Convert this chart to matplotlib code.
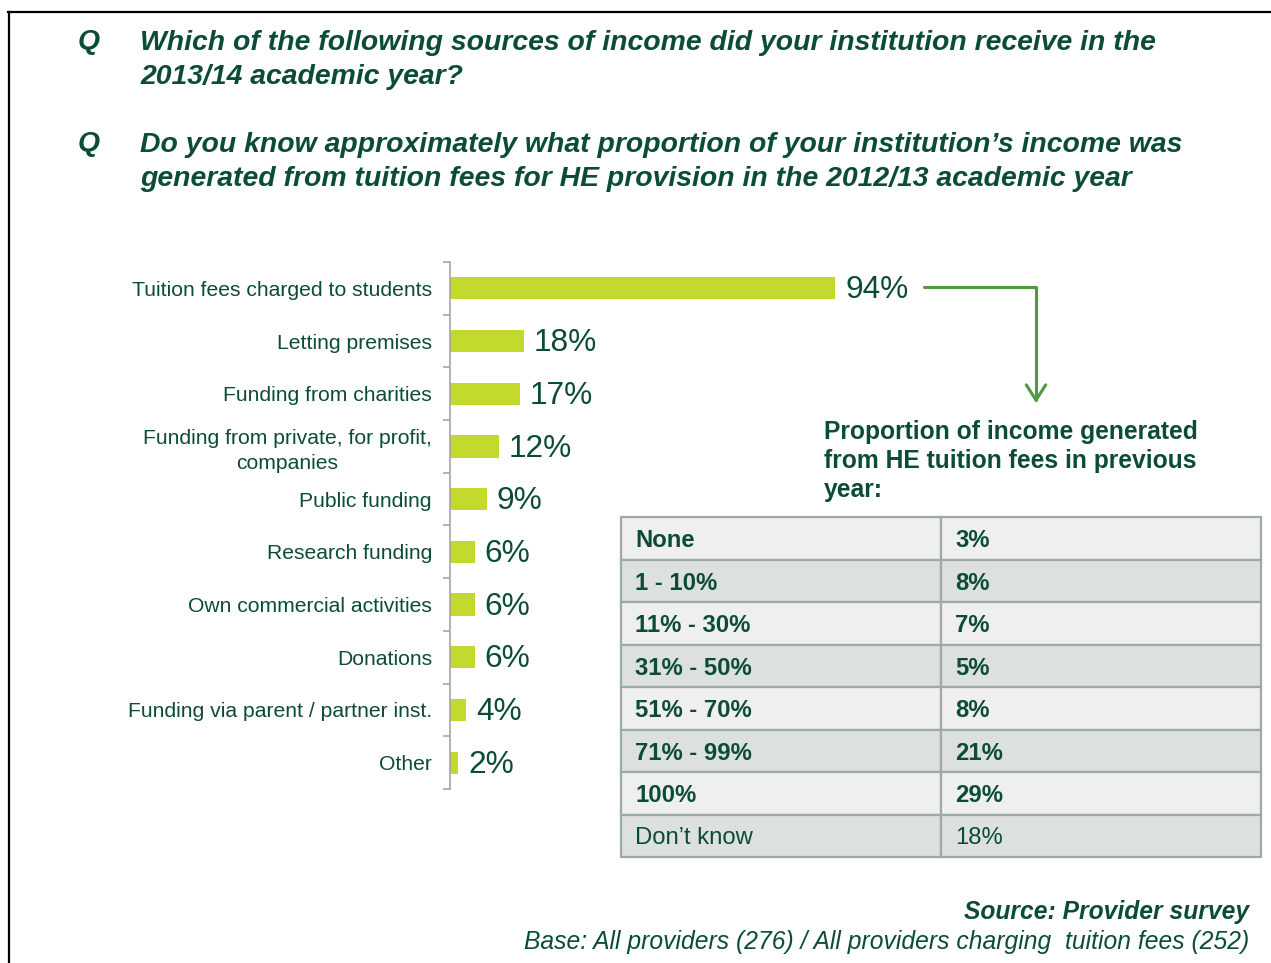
"""
Income sources of HE providers (2013/14) with the share of income from
tuition fees in the previous year shown as a side table.

Writes: out.png
"""
import matplotlib.pyplot as plt
from matplotlib.lines import Line2D

plt.rcParams["font.family"] = ["Liberation Sans", "DejaVu Sans"]

DARK = "#0B4C38"
BAR = "#C3D92E"
ARROW = "#4E9A3E"

# income sources, top to bottom
sources = [
    "Tuition fees charged to students",
    "Letting premises",
    "Funding from charities",
    "Funding from private, for profit,\ncompanies",
    "Public funding",
    "Research funding",
    "Own commercial activities",
    "Donations",
    "Funding via parent / partner inst.",
    "Other",
]
shares = [94, 18, 17, 12, 9, 6, 6, 6, 4, 2]

# proportion of income from HE tuition fees in previous year
bands = ["None", "1 - 10%", "11% - 30%", "31% - 50%", "51% - 70%",
         "71% - 99%", "100%", "Don\u2019t know"]
band_pct = [3, 8, 7, 5, 8, 21, 29, 18]

questions = [
    "Which of the following sources of income did your institution receive in the\n"
    "2013/14 academic year?",
    "Do you know approximately what proportion of your institution\u2019s income was\n"
    "generated from tuition fees for HE provision in the 2012/13 academic year",
]

W, H = 1271, 963
fig = plt.figure(figsize=(W / 100, H / 100), dpi=100)


def fx(px):
    return px / W


def fy(py):
    return 1 - py / H


# frame lines (top and left)
fig.add_artist(Line2D([fx(8), 1], [fy(12), fy(12)], color="black", lw=1.6))
fig.add_artist(Line2D([fx(9), fx(9)], [0, fy(12)], color="black", lw=1.6))

# questions
for (y0, q) in zip([41, 143], questions):
    fig.text(fx(78), fy(y0 + 1), "Q", fontsize=20.4, fontweight="bold",
             fontstyle="italic", color=DARK, va="center")
    fig.text(fx(140), fy(y0 - 11), q, fontsize=20.4, fontweight="bold",
             fontstyle="italic", color=DARK, va="top", linespacing=1.4)

# bar chart
ax = fig.add_axes([fx(450), fy(789), fx(860) - fx(450), fy(262) - fy(789)])
ypos = list(range(len(sources)))
ax.barh(ypos, shares, height=0.42, color=BAR)
ax.set_xlim(0, 100)
ax.set_ylim(len(sources) - 0.5, -0.5)
for s in ["top", "right", "bottom"]:
    ax.spines[s].set_visible(False)
ax.spines["left"].set_color("#A6A6A6")
ax.spines["left"].set_linewidth(1.2)
ax.set_xticks([])
ax.set_yticks(ypos)
ax.set_yticklabels(sources, fontsize=15.2, color=DARK, multialignment="center",
                   linespacing=1.35)
ax.tick_params(axis="y", which="major", length=0, pad=13)
ax.set_yticks([i - 0.5 for i in range(len(sources) + 1)], minor=True)
ax.tick_params(axis="y", which="minor", length=5, width=1.2, color="#A6A6A6")
ax.patch.set_alpha(0)

for y, v in zip(ypos, shares):
    ax.annotate(f"{v}%", (v, y), xytext=(7, -1.5), textcoords="offset points",
                va="center", ha="left", fontsize=22.8, color=DARK,
                annotation_clip=False)

# arrow from the tuition-fee bar to the table heading
ax.annotate("", xy=(fx(1036), fy(403)), xycoords="figure fraction",
            xytext=(fx(924), fy(287)), textcoords="figure fraction",
            arrowprops=dict(arrowstyle="->,head_length=0.55,head_width=0.35",
                            connectionstyle="angle,angleA=0,angleB=90,rad=0",
                            color=ARROW, lw=2.2, shrinkA=0, shrinkB=0,
                            mutation_scale=20))

fig.text(fx(824), fy(461), "Proportion of income generated\n"
         "from HE tuition fees in previous\nyear:",
         fontsize=17.7, fontweight="bold", color=DARK, va="center",
         linespacing=1.28)

# side table
tax = fig.add_axes([fx(621), fy(857), fx(1261) - fx(621), fy(517) - fy(857)])
tax.axis("off")
cells = [[b, f"{p}%"] for b, p in zip(bands, band_pct)]
row_fill = ["#EFEFEF" if i % 2 == 0 else "#DCE0DE" for i in range(len(bands))]
tbl = tax.table(cellText=cells, cellLoc="left", bbox=[0, 0, 1, 1],
                cellColours=[[c, c] for c in row_fill])
tbl.auto_set_font_size(False)
for (r, c), cell in tbl.get_celld().items():
    cell.set_edgecolor("#9DABA3")
    cell.set_linewidth(1.6)
    cell.PAD = 0.044
    txt = cell.get_text()
    txt.set_fontsize(17.2)
    txt.set_color(DARK)
    txt.set_va("center_baseline")
    if r < len(bands) - 1:
        txt.set_fontweight("bold")

# source notes
fig.text(fx(1249), fy(912), "Source: Provider survey", ha="right", va="center",
         fontsize=17.7, fontweight="bold", fontstyle="italic", color=DARK)
fig.text(fx(1249), fy(942),
         "Base: All providers (276) / All providers charging  tuition fees (252)",
         ha="right", va="center", fontsize=17.7, fontstyle="italic", color=DARK)

fig.savefig("out.png", dpi=100)
